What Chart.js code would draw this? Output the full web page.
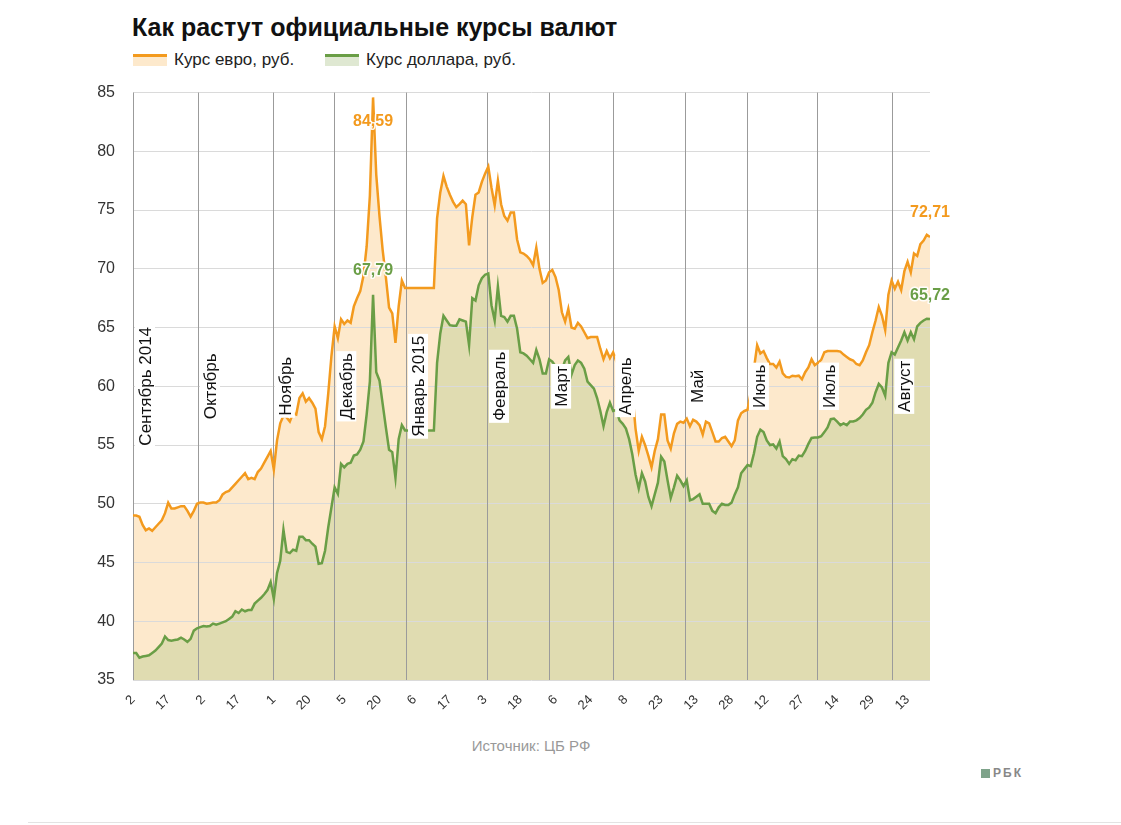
<!DOCTYPE html>
<html>
<head>
<meta charset="utf-8">
<script src="https://cdn.jsdelivr.net/npm/chart.js@4.4.0/dist/chart.umd.min.js"></script>
<style>
  body { margin: 0; width: 1121px; height: 825px; background: #fff; position: relative; overflow: hidden;
         font-family: "Liberation Sans", Arial, sans-serif; }
  .title { position: absolute; left: 132px; top: 13px; font-size: 25px; font-weight: bold; color: #111; }
  .legend { position: absolute; top: 50px; font-size: 17px; color: #222; }
  .legend i { display: inline-block; width: 34px; height: 9px; vertical-align: -1px; margin-right: 7px; }
  #wrap { position: absolute; left: 40px; top: 65px; width: 920px; height: 655px; }
  .source { position: absolute; left: 0; width: 1062px; top: 737px; text-align: center; font-size: 15px; color: #999; }
  .logo { position: absolute; left: 981px; top: 766px; font-size: 12px; font-weight: bold; color: #888; letter-spacing: 2px; }
  .logo b { display: inline-block; width: 9px; height: 9px; background: #7ea38a; margin-right: 3px; vertical-align: -1px; }
  .rule { position: absolute; left: 28px; right: 0; top: 822px; border-top: 1px solid #e3e3e3; }
</style>
</head>
<body>
<div class="title">Как растут официальные курсы валют</div>
<div class="legend" style="left:133px"><i style="border-top:3px solid #f39a1e;background:#fde9cc"></i>Курс евро, руб.</div>
<div class="legend" style="left:325px"><i style="border-top:3px solid #6a9e46;background:#dfe8d2"></i>Курс доллара, руб.</div>
<div id="wrap"><canvas id="chart"></canvas></div>
<div class="source">Источник: ЦБ РФ</div>
<div class="logo"><b></b>РБК</div>
<div class="rule"></div>

<script>
// подписи под осью X: каждая 11-я дата
const tickLabels = ['2', '17', '2', '17', '1', '20', '5', '20', '6', '17', '3', '18',
  '6', '24', '8', '23', '13', '28', '12', '27', '14', '29', '13'];

const months = ['Сентябрь 2014', 'Октябрь', 'Ноябрь', 'Декабрь', 'Январь 2015', 'Февраль',
  'Март', 'Апрель', 'Май', 'Июнь', 'Июль', 'Август'];
// где начинается месяц (номер точки)
const monthStarts = [0, 20.3, 43.7, 62.9, 85.3, 110.6, 130, 150, 172.4, 191.8, 213.7, 237.2];

const euro = [
  49.0, 49.0, 48.9, 48.2, 47.75, 47.9, 47.7, 48.0, 48.3, 48.6,
  49.2, 50.1, 49.6, 49.6, 49.7, 49.8, 49.8, 49.4, 48.9, 49.4,
  50.0, 50.1, 50.1, 50.0, 50.05, 50.1, 50.1, 50.3, 50.8, 51.0,
  51.1, 51.4, 51.7, 52.0, 52.3, 52.6, 52.1, 52.2, 52.1, 52.7,
  53.0, 53.5, 54.0, 54.5, 52.9, 55.4, 56.85, 57.5, 57.35, 57.0,
  57.7, 57.6, 59.0, 59.4, 58.7, 59.0, 58.6, 58.1, 56.1, 55.5,
  56.6, 59.4, 62.6, 65.1, 64.1, 65.7, 65.3, 65.6, 65.4, 66.8,
  67.5, 68.1, 69.4, 71.9, 76.2, 84.59, 78.0, 74.5, 71.6, 69.3,
  66.7, 66.2, 63.7, 66.8, 69.0, 68.37, 68.37, 68.37, 68.37, 68.37,
  68.37, 68.37, 68.37, 68.37, 68.37, 74.3, 76.5, 77.9, 77.0, 76.3,
  75.7, 75.25, 75.5, 75.8, 75.5, 72.0, 74.4, 76.3, 76.5, 77.4,
  78.1, 78.7, 76.9, 75.4, 77.5, 75.5, 74.5, 74.1, 74.8, 74.8,
  72.5, 71.4, 71.3, 71.1, 70.8, 70.3, 71.8, 70.0, 68.8, 69.0,
  69.7, 69.9, 69.3, 68.2, 66.3, 65.5, 66.6, 65.0, 64.9, 65.4,
  65.1, 64.6, 64.1, 64.2, 64.2, 64.2, 63.2, 62.3, 63.0, 62.4,
  62.9, 62.1, 61.8, 61.5, 61.0, 60.7, 59.5, 56.4, 54.5, 55.7,
  55.0, 54.1, 53.1, 54.5, 55.5, 57.6, 57.6, 55.4, 54.7, 56.0,
  56.8, 57.0, 56.9, 57.25, 56.6, 57.15, 57.0, 56.7, 55.9, 57.0,
  56.85, 56.1, 55.3, 55.3, 55.6, 55.7, 55.3, 54.9, 55.4, 57.1,
  57.7, 57.9, 58.0, 59.5, 61.5, 63.5, 62.8, 63.0, 62.4, 61.9,
  61.9, 61.6, 62.1, 61.1, 60.8, 60.75, 60.9, 60.85, 60.9, 60.6,
  61.2, 61.6, 62.3, 61.8, 62.0, 62.25, 62.9, 63.0, 63.0, 63.0,
  63.0, 62.95, 62.7, 62.5, 62.3, 62.2, 61.9, 61.8, 62.2, 62.9,
  63.5, 64.6, 65.6, 66.75, 66.0, 64.8, 67.8, 69.0, 68.3, 68.9,
  68.2, 69.8, 70.6, 69.7, 71.3, 71.1, 72.1, 72.4, 72.9, 72.71
];

const usd = [
  37.3, 37.3, 36.9, 37.0, 37.05, 37.1, 37.3, 37.5, 37.8, 38.1,
  38.7, 38.4, 38.35, 38.4, 38.45, 38.6, 38.45, 38.25, 38.5, 39.2,
  39.4, 39.5, 39.6, 39.55, 39.6, 39.8, 39.7, 39.8, 39.9, 40.0,
  40.2, 40.4, 40.85, 40.7, 41.0, 40.85, 40.95, 40.95, 41.5, 41.75,
  42.0, 42.3, 42.65, 43.35, 41.9, 44.1, 45.15, 47.8, 45.9, 45.8,
  46.1, 46.0, 47.2, 47.2, 46.9, 46.9, 46.6, 46.35, 44.9, 44.95,
  46.0, 48.0, 49.7, 51.4, 50.85, 53.4, 53.1, 53.4, 53.5, 54.1,
  54.2, 54.6, 55.3, 57.6, 60.4, 67.79, 61.2, 60.5, 58.5, 56.5,
  54.6, 54.4, 52.2, 55.5, 56.7, 56.24, 56.24, 56.24, 56.24, 56.24,
  56.24, 56.24, 56.24, 56.24, 56.24, 62.0, 64.5, 66.0, 65.6, 65.2,
  65.15, 65.15, 65.7, 65.6, 65.5, 63.5, 67.5, 67.3, 68.6, 69.2,
  69.5, 69.6, 66.9, 65.6, 68.5, 66.0, 65.9, 65.5, 66.0, 66.0,
  64.9, 62.9, 62.8, 62.6, 62.3, 62.0, 63.1, 62.3, 61.1, 61.1,
  62.3, 62.1, 61.7, 61.3, 61.4, 62.2, 62.5, 61.0, 61.8, 62.2,
  62.0, 61.5, 60.4, 60.1, 59.8, 59.0, 57.9, 56.6, 57.8, 58.6,
  57.9, 58.0, 57.1, 56.8, 56.4, 55.5, 54.2, 52.5, 51.3, 52.6,
  51.9, 50.6, 49.8, 50.8, 51.8, 54.0, 53.6, 52.0, 50.5, 51.4,
  52.4, 52.0, 51.5, 52.0, 50.3, 50.4, 50.6, 50.8, 50.0, 50.0,
  50.0, 49.4, 49.2, 49.7, 50.0, 49.9, 49.9, 50.1, 50.8, 51.4,
  52.6, 52.95, 53.3, 53.2, 54.3, 55.7, 56.3, 56.1, 55.4, 55.0,
  55.05, 54.7, 55.3, 54.05, 53.8, 53.4, 53.8, 53.7, 54.1, 54.05,
  54.5, 55.1, 55.6, 55.65, 55.65, 55.75, 56.1, 56.5, 57.2, 57.25,
  57.0, 56.7, 56.85, 56.7, 57.0, 57.0, 57.1, 57.3, 57.6, 58.0,
  58.2, 58.6, 59.5, 60.2, 59.9, 59.2, 62.0, 62.9, 62.7, 63.3,
  63.9, 64.6, 63.9, 64.6, 64.0, 65.1, 65.4, 65.6, 65.75, 65.72
];

const ORANGE = '#f39a1e';
const GREEN = '#6a9e46';

const fmt = v => v.toFixed(2).replace('.', ',');

// декабрьский пик евро, в тот же день подписан и доллар
const peak = euro.indexOf(Math.max(...euro));
const last = euro.length - 1;

// вертикальные линии месяцев и их подписи
const monthPlugin = {
  id: 'months',
  beforeDatasetsDraw(chart) {
    const { ctx, chartArea, scales: { x } } = chart;
    ctx.save();
    ctx.strokeStyle = '#9b9b9b';
    ctx.lineWidth = 1;
    monthStarts.forEach(m => {
      const px = Math.round(x.getPixelForValue(m)) + 0.5;
      ctx.beginPath();
      ctx.moveTo(px, chartArea.top);
      ctx.lineTo(px, chartArea.bottom);
      ctx.stroke();
    });
    ctx.restore();
  },
  afterDatasetsDraw(chart) {
    const { ctx, scales: { x, y } } = chart;
    ctx.save();
    ctx.font = '17px "Liberation Sans", Arial, sans-serif';
    ctx.textAlign = 'center';
    ctx.textBaseline = 'middle';
    monthStarts.forEach((m, i) => {
      const px = x.getPixelForValue(m) + 12;
      const py = y.getPixelForValue(60);
      const w = ctx.measureText(months[i]).width;
      ctx.save();
      ctx.translate(px, py);
      ctx.rotate(-Math.PI / 2);
      ctx.fillStyle = '#fff';
      ctx.fillRect(-w / 2 - 2, -10, w + 4, 20);
      ctx.fillStyle = '#111';
      ctx.fillText(months[i], 0, 1);
      ctx.restore();
    });

    // подписи значений: пик и последние точки
    const marks = [
      { data: euro, i: peak, color: ORANGE, dy: 24 },
      { data: usd, i: peak, color: GREEN, dy: -24 },
      { data: euro, i: last, color: ORANGE, dy: -24 },
      { data: usd, i: last, color: GREEN, dy: -24 }
    ];
    ctx.font = 'bold 16px "Liberation Sans", Arial, sans-serif';
    ctx.lineJoin = 'round';
    marks.forEach(mk => {
      const px = x.getPixelForValue(mk.i);
      const py = y.getPixelForValue(mk.data[mk.i]) + mk.dy;
      const t = fmt(mk.data[mk.i]);
      ctx.strokeStyle = 'rgba(255,255,255,0.9)';
      ctx.lineWidth = 3;
      ctx.strokeText(t, px, py);
      ctx.fillStyle = mk.color;
      ctx.fillText(t, px, py);
    });
    ctx.restore();
  }
};

new Chart(document.getElementById('chart'), {
  type: 'line',
  data: {
    datasets: [
      {
        label: 'Курс евро, руб.',
        data: euro.map((v, i) => ({ x: i, y: v })),
        borderColor: ORANGE,
        backgroundColor: '#fde9cc',
        borderWidth: 2.5,
        fill: 'start',
        order: 2
      },
      {
        label: 'Курс доллара, руб.',
        data: usd.map((v, i) => ({ x: i, y: v })),
        borderColor: GREEN,
        backgroundColor: '#e0dcb1',
        borderWidth: 2.5,
        fill: 'start',
        order: 1
      }
    ]
  },
  options: {
    responsive: true,
    maintainAspectRatio: false,
    animation: false,
    layout: { padding: { left: 0, right: 30, top: 12, bottom: 0 } },
    elements: { point: { radius: 0 }, line: { tension: 0 } },
    plugins: {
      legend: { display: false },
      tooltip: { enabled: false },
      filler: { drawTime: 'beforeDraw' }
    },
    scales: {
      x: {
        type: 'linear',
        min: 0,
        max: last,
        grid: { display: false },
        border: { display: false },
        ticks: {
          stepSize: 11,
          autoSkip: false,
          maxRotation: 45,
          minRotation: 45,
          padding: 4,
          color: '#333',
          font: { family: '"Liberation Sans", Arial, sans-serif', size: 13 },
          callback: v => (v % 11 === 0 ? tickLabels[v / 11] : '')
        },
        afterFit: s => { s.height = 40; }
      },
      y: {
        min: 35,
        max: 85,
        grid: { color: '#dadada', drawTicks: false },
        border: { display: false },
        ticks: {
          stepSize: 5,
          padding: 18,
          color: '#333',
          font: { family: '"Liberation Sans", Arial, sans-serif', size: 16 }
        },
        afterFit: s => { s.width = 93; }
      }
    }
  },
  plugins: [monthPlugin]
});
</script>
</body>
</html>
